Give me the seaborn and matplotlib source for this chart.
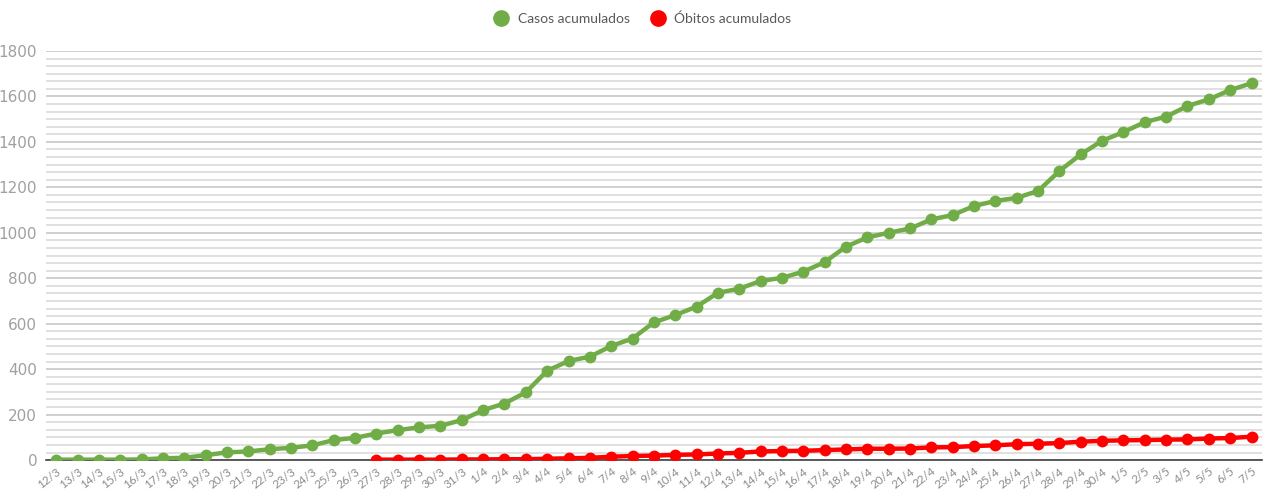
import pandas as pd
import numpy as np
import matplotlib.pyplot as plt
from matplotlib.lines import Line2D
from matplotlib.ticker import MultipleLocator
import seaborn as sns

# Data
datas = ['12/3', '13/3', '14/3', '15/3', '16/3', '17/3', '18/3', '19/3', '20/3', '21/3',
         '22/3', '23/3', '24/3', '25/3', '26/3', '27/3', '28/3', '29/3', '30/3', '31/3',
         '1/4', '2/4', '3/4', '4/4', '5/4', '6/4', '7/4', '8/4', '9/4', '10/4',
         '11/4', '12/4', '13/4', '14/4', '15/4', '16/4', '17/4', '18/4', '19/4', '20/4',
         '21/4', '22/4', '23/4', '24/4', '25/4', '26/4', '27/4', '28/4', '29/4', '30/4',
         '1/5', '2/5', '3/5', '4/5', '5/5', '6/5', '7/5']

casos = [2, 2, 2, 2, 3, 8, 10, 22, 34, 38,
         48, 54, 65, 88, 98, 117, 132, 144, 151, 176,
         220, 249, 298, 393, 436, 455, 502, 535, 606, 638,
         675, 736, 754, 788, 802, 829, 871, 939, 980, 1000,
         1019, 1059, 1078, 1118, 1140, 1154, 1184, 1272, 1345, 1405,
         1443, 1487, 1511, 1558, 1587, 1628, 1658]

obitos = [np.nan] * 15 + [
         2, 2, 2, 2, 3,
         3, 4, 4, 6, 8, 10, 15, 18, 20, 23,
         25, 29, 32, 38, 40, 41, 44, 47, 50, 50,
         51, 56, 57, 62, 65, 70, 72, 75, 81, 85,
         87, 88, 90, 91, 95, 97, 103]

labels = ['Casos acumulados', 'Óbitos acumulados']
cores = ['#70AD47', '#FF0000']

# Long format table for seaborn
df = pd.DataFrame({'idx': range(len(datas)), 'data': datas,
                   labels[0]: casos, labels[1]: obitos})
df_long = df.melt(id_vars=['idx', 'data'], var_name='serie', value_name='valor')

sns.set_style('white')
plt.rcParams['font.family'] = ['Lato', 'DejaVu Sans']

fig = plt.figure(figsize=(12.66, 4.9), dpi=100)
ax = fig.add_axes([0.036, 0.061, 0.961, 0.835])

sns.lineplot(data=df_long, x='idx', y='valor', hue='serie', palette=cores,
             marker='o', markersize=8.5, markeredgewidth=0, linewidth=3.2,
             legend=False, ax=ax, zorder=3)

# Axes limits and grid
ax.set_xlim(-0.5, len(datas) - 0.5)
ax.set_ylim(0, 1800)
ax.yaxis.set_major_locator(MultipleLocator(200))
ax.yaxis.set_minor_locator(MultipleLocator(200 / 6))
ax.grid(which='major', axis='y', color='#cfcfcf', linewidth=1.4)
ax.grid(which='minor', axis='y', color='#dadada', linewidth=1.2)
ax.set_axisbelow(True)

for s in ['top', 'right', 'left']:
    ax.spines[s].set_visible(False)
ax.spines['bottom'].set_color('#404040')
ax.spines['bottom'].set_linewidth(1.2)

ax.set_xticks(df['idx'])
ax.set_xticklabels(datas, rotation=38, ha='right', rotation_mode='anchor',
                   fontsize=8.5, color='#8c8c8c')
ax.tick_params(axis='x', length=0, pad=4)
ax.tick_params(axis='y', which='both', length=0, pad=6, labelsize=11,
               labelcolor='#a0a0a0')
for t in ax.get_yticklabels():
    t.set_family(['Liberation Sans Narrow', 'DejaVu Sans'])
ax.set_xlabel('')
ax.set_ylabel('')

# Legend on top
handles = [Line2D([], [], marker='o', linestyle='', markersize=11, color=c)
           for c in cores]
fig.legend(handles, labels, loc='upper center', bbox_to_anchor=(0.505, 1.0),
           ncol=2, frameon=False, fontsize=10, labelcolor='#595959',
           handletextpad=0.2, columnspacing=1.0)

plt.savefig('out.png', dpi=100)
plt.close()
